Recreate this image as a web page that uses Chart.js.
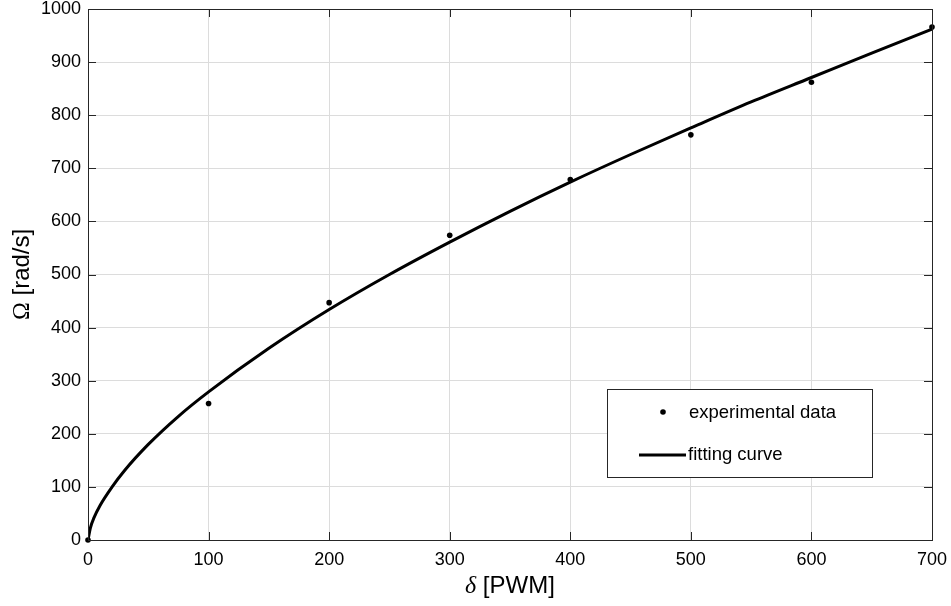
<!DOCTYPE html>
<html>
<head>
<meta charset="utf-8">
<script src="https://cdn.jsdelivr.net/npm/chart.js@4.4.1/dist/chart.umd.min.js"></script>
<style>
  html, body { margin: 0; padding: 0; background: #fff; }
  #wrap { width: 951px; height: 606px; }
  /* greek symbols in the axis titles come from the serif face, like the TeX labels */
  @font-face { font-family: 'GreekMix'; src: local('Liberation Serif Italic'), local('LiberationSerif-Italic'); unicode-range: U+03B4; }
  @font-face { font-family: 'GreekMix'; src: local('Liberation Serif'), local('LiberationSerif'); unicode-range: U+03A9; }
</style>
</head>
<body>
<div id="wrap"><canvas id="c" width="951" height="606"></canvas></div>
<script>
// Measured points (PWM duty -> angular speed)
const pwmData = [0, 100, 200, 300, 400, 500, 600, 700];
const omegaData = [0, 257, 447, 574, 679, 763, 862, 966];

// Fitting curve
const pwmFit = [0, 2, 5, 10, 20, 30, 50, 75, 100, 150, 200, 250, 300, 350, 400, 450, 500, 550, 600, 650, 700];
const omegaFit = [0, 23, 42, 65, 100, 130, 180, 233, 279, 361, 434, 500, 561, 619, 674, 726, 776, 825, 871, 917, 962];

const xTicks = [0, 100, 200, 300, 400, 500, 600, 700];
const yTicks = [0, 100, 200, 300, 400, 500, 600, 700, 800, 900, 1000];

const AXIS = '#262626';
const GRID = '#dcdcdc';
const FONT = "'Liberation Sans', Arial, sans-serif";
const TITLE_FONT = "GreekMix, 'Liberation Sans', Arial, sans-serif";

// inward ticks, full box and the legend inside the plot
const framePlugin = {
    id: 'frame',
    afterDraw(chart) {
        const { ctx, chartArea: a, scales } = chart;
        ctx.save();
        ctx.strokeStyle = AXIS;
        ctx.lineWidth = 1;
        ctx.strokeRect(Math.round(a.left) + 0.5, Math.round(a.top) + 0.5, Math.round(a.right - a.left), Math.round(a.bottom - a.top));
        const tl = 8;
        ctx.beginPath();
        xTicks.forEach((v) => {
            const x = Math.round(scales.x.getPixelForValue(v)) + 0.5;
            ctx.moveTo(x, a.bottom); ctx.lineTo(x, a.bottom - tl);
            ctx.moveTo(x, a.top); ctx.lineTo(x, a.top + tl);
        });
        yTicks.forEach((v) => {
            const y = Math.round(scales.y.getPixelForValue(v)) + 0.5;
            ctx.moveTo(a.left, y); ctx.lineTo(a.left + tl, y);
            ctx.moveTo(a.right, y); ctx.lineTo(a.right - tl, y);
        });
        ctx.stroke();

        // legend box
        const lx = 607, ly = 389, lw = 265, lh = 88;
        ctx.fillStyle = '#fff';
        ctx.fillRect(lx, ly, lw, lh);
        ctx.strokeStyle = AXIS;
        ctx.strokeRect(lx + 0.5, ly + 0.5, lw, lh);
        const ds = chart.data.datasets;
        ctx.font = '18.5px ' + FONT;
        ctx.fillStyle = '#000';
        ctx.textBaseline = 'middle';
        ctx.textAlign = 'left';
        ctx.beginPath();
        ctx.arc(663, 412, 2.8, 0, Math.PI * 2);
        ctx.fill();
        ctx.fillText(ds[0].label, 689, 413);
        ctx.lineWidth = 3;
        ctx.strokeStyle = '#000';
        ctx.beginPath();
        ctx.moveTo(639, 455); ctx.lineTo(686, 455);
        ctx.stroke();
        ctx.fillText(ds[1].label, 688, 455);
        ctx.restore();
    },
};

function draw() {
    new Chart(document.getElementById('c'), {
        type: 'scatter',
        data: {
            datasets: [
                {
                    label: 'experimental data',
                    data: pwmData.map((x, i) => ({ x, y: omegaData[i] })),
                    pointRadius: 2.8,
                    pointBackgroundColor: '#000',
                    pointBorderWidth: 0,
                    showLine: false,
                    clip: false,
                    order: 0,
                },
                {
                    label: 'fitting curve',
                    data: pwmFit.map((x, i) => ({ x, y: omegaFit[i] })),
                    showLine: true,
                    borderColor: '#000',
                    borderWidth: 3,
                    pointRadius: 0,
                    cubicInterpolationMode: 'monotone',
                    order: 1,
                },
            ],
        },
        options: {
            responsive: false,
            animation: false,
            layout: { padding: { top: 9, right: 19, left: 0, bottom: 0 } },
            plugins: { legend: { display: false }, tooltip: { enabled: false } },
            scales: {
                x: {
                    type: 'linear', min: 0, max: 700,
                    afterBuildTicks: (s) => { s.ticks = xTicks.map((v) => ({ value: v })); },
                    afterFit: (s) => { s.height = 66; s.paddingLeft = 0; s.paddingRight = 0; },
                    grid: { color: GRID, drawTicks: false },
                    border: { display: false },
                    ticks: { color: '#000', font: { family: FONT, size: 18 }, padding: 9, callback: (v) => String(v) },
                    title: { display: true, text: 'δ [PWM]', color: '#000', font: { family: TITLE_FONT, size: 24 }, padding: { top: 0, bottom: 5 } },
                },
                y: {
                    type: 'linear', min: 0, max: 1000,
                    afterBuildTicks: (s) => { s.ticks = yTicks.map((v) => ({ value: v })); },
                    afterFit: (s) => { s.width = 88; s.paddingTop = 0; s.paddingBottom = 0; },
                    grid: { color: GRID, drawTicks: false },
                    border: { display: false },
                    ticks: { color: '#000', font: { family: FONT, size: 18 }, padding: 7, callback: (v) => String(v) },
                    title: { display: true, text: 'Ω [rad/s]', color: '#000', font: { family: TITLE_FONT, size: 24 }, padding: { top: 8, bottom: 0 } },
                },
            },
        },
        plugins: [framePlugin],
    });
}

Promise.all([
    document.fonts.load("24px GreekMix", 'δ'),
    document.fonts.load("24px GreekMix", 'Ω'),
]).then(draw, draw);
</script>
</body>
</html>
